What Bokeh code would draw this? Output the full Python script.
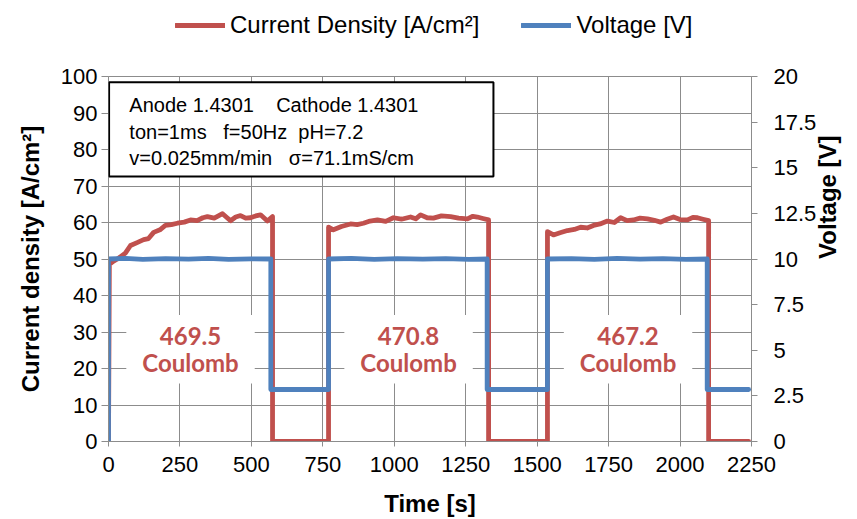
import math
from bokeh.plotting import figure
from bokeh.layouts import column
from bokeh.models import (Range1d, LinearAxis, Legend, LegendItem, BoxAnnotation, Label,
                          FixedTicker, NumeralTickFormatter, ColumnDataSource)
from bokeh.core.properties import value
from bokeh.embed import file_html
from bokeh.resources import INLINE

# ---------------- data ----------------
time_current = [0, 3, 15, 35, 59, 77, 100, 123, 140, 158, 180, 199, 220, 241, 265, 287, 310,
                330, 346, 370, 399, 415, 427, 445, 462, 480, 497, 515, 532, 556, 574, 574,
                770, 770, 787, 815, 847, 870, 892, 915, 941, 970, 997, 1025, 1057, 1075, 1092,
                1115, 1137, 1165, 1197, 1225, 1256, 1275, 1291, 1310, 1330, 1330,
                1536, 1536, 1557, 1580, 1606, 1630, 1652, 1675, 1697, 1720, 1746, 1770, 1792,
                1815, 1837, 1860, 1886, 1910, 1932, 1955, 1977, 2000, 2026, 2045, 2061, 2080,
                2100, 2100, 2240]
current_density = [0, 48.5, 49.3, 50.2, 51.6, 53.7, 54.5, 55.3, 55.6, 57.3, 58.0, 59.2, 59.4,
                   59.8, 60.1, 60.7, 60.5, 61.3, 61.6, 61.2, 62.4, 61.3, 60.5, 61.5, 61.9, 61.2,
                   61.3, 61.8, 62.1, 60.4, 61.6, 0,
                   0, 58.7, 58.0, 58.9, 59.6, 59.4, 59.8, 60.4, 60.7, 60.3, 61.3, 60.9, 61.5,
                   61.0, 62.1, 61.3, 61.2, 61.8, 61.6, 61.2, 61.0, 61.7, 61.5, 61.1, 60.7, 0,
                   0, 57.5, 56.6, 57.2, 57.8, 58.1, 58.7, 58.5, 59.2, 59.6, 60.4, 60.0, 61.3,
                   60.5, 60.7, 61.2, 61.0, 60.6, 60.1, 60.9, 61.5, 60.8, 60.7, 61.4, 61.3, 60.9,
                   60.5, 0, 0]

time_voltage = [0, 0, 60, 120, 200, 280, 350, 420, 500, 568, 568,
                770, 770, 850, 930, 1010, 1100, 1180, 1260, 1325, 1325,
                1536, 1536, 1620, 1700, 1780, 1860, 1940, 2020, 2095, 2095, 2240]
voltage = [0, 10.0, 10.03, 9.98, 10.02, 9.99, 10.03, 9.98, 10.01, 10.0, 2.85,
           2.85, 10.0, 10.03, 9.98, 10.02, 9.99, 10.02, 9.98, 10.0, 2.85,
           2.85, 10.0, 10.02, 9.98, 10.03, 9.99, 10.02, 9.98, 10.0, 2.85, 2.85]

pulse_start = [0, 770, 1536]
pulse_end = [574, 1330, 2100]
charge_values = ["469.5", "470.8", "467.2"]
charge_unit = "Coulomb"

x_ticks = [0, 250, 500, 750, 1000, 1250, 1500, 1750, 2000, 2250]
y_ticks = [0, 10, 20, 30, 40, 50, 60, 70, 80, 90, 100]
v_ticks = [0, 2.5, 5, 7.5, 10, 12.5, 15, 17.5, 20]

legend_labels = ["Current Density [A/cm²]", "Voltage [V]"]
NB = "\u00a0"
info_lines = ["Anode 1.4301" + NB * 4 + "Cathode 1.4301",
              "ton=1ms" + NB * 3 + "f=50Hz" + NB * 2 + "pH=7.2",
              "v=0.025mm/min" + NB * 3 + "σ=71.1mS/cm"]

# ---------------- style ----------------
RED = "#C0504D"
BLUE = "#4F81BD"
GRID = "#8C8C8C"
FONT = "Liberation Sans"
TOP_H = 50

# ---------------- main plot ----------------
p = figure(width=857, height=519 - TOP_H, output_backend="svg", toolbar_location=None,
           x_range=Range1d(0, 2250), y_range=Range1d(0, 100),
           min_border_left=108, min_border_right=106, min_border_top=76 - TOP_H,
           min_border_bottom=78)
p.extra_y_ranges = {"volt": Range1d(0, 20)}
p.outline_line_color = GRID
p.background_fill_color = "white"
p.border_fill_color = "white"

p.xgrid.ticker = FixedTicker(ticks=x_ticks)
p.ygrid.ticker = FixedTicker(ticks=y_ticks)
for g in (p.xgrid, p.ygrid):
    g.grid_line_color = GRID
    g.grid_line_width = 1

def style_axis(ax, title, tick_out, standoff, title_standoff):
    ax.axis_label = title
    ax.axis_label_text_font = FONT
    ax.axis_label_text_font_style = "bold"
    ax.axis_label_text_font_size = "24px"
    ax.axis_label_text_color = "black"
    ax.axis_label_standoff = title_standoff
    ax.major_label_text_font = FONT
    ax.major_label_text_font_size = "22px"
    ax.major_label_text_color = "black"
    ax.major_label_standoff = standoff
    ax.axis_line_color = GRID
    ax.major_tick_line_color = GRID
    ax.major_tick_out = tick_out
    ax.major_tick_in = 0
    ax.minor_tick_line_color = None

p.xaxis.ticker = FixedTicker(ticks=x_ticks)
p.yaxis.ticker = FixedTicker(ticks=y_ticks)
style_axis(p.xaxis[0], "Time [s]", 5, 10, 15)
style_axis(p.yaxis[0], "Current density [A/cm²]", 7, 4, 14)

# right axis: ticks and labels
vax = LinearAxis(y_range_name="volt", ticker=FixedTicker(ticks=v_ticks),
                 formatter=NumeralTickFormatter(format="0.[0]"))
style_axis(vax, None, 6, 16, 0)
p.add_layout(vax, "right")

# right axis title (bottom-to-top), carried by a bare axis so that it can be centred
vtitle = LinearAxis(y_range_name="volt", ticker=FixedTicker(ticks=[]), bounds=(0, 13.26))
style_axis(vtitle, "Voltage [V]", 0, 0, 8)
vtitle.axis_line_color = None
vtitle.major_tick_line_color = None
try:
    vtitle.axis_label_orientation = math.pi / 2
except Exception:
    pass
p.add_layout(vtitle, "right")

# info box
box = BoxAnnotation(left=2, right=1347, top=98.4, bottom=72.6,
                    fill_color="white", fill_alpha=1.0,
                    line_color="black", line_width=2, line_alpha=1.0)
p.add_layout(box)
for i, line in enumerate(info_lines):
    p.add_layout(Label(x=73, y=92.1 - i * 7.2, text=line, text_font=FONT,
                       text_font_size="20px", text_baseline="middle", text_color="black"))

# data lines
cur_src = ColumnDataSource(dict(t=time_current, c=current_density))
volt_src = ColumnDataSource(dict(t=time_voltage, v=voltage))
p.line("t", "c", source=cur_src, line_color=RED, line_width=4.8,
       line_join="round", line_cap="round")
p.line("t", "v", source=volt_src, y_range_name="volt", line_color=BLUE,
       line_width=4.8, line_join="round", line_cap="round")

# charge labels
mid = [(a + b) / 2 for a, b in zip(pulse_start, pulse_end)]
lab_src = ColumnDataSource(dict(x=mid, y=[25.3] * 3,
                                txt=[f"{v}\n{charge_unit}" for v in charge_values]))
p.text("x", "y", text="txt", source=lab_src, text_font=value("Lato"),
       text_font_style="bold", text_font_size="24px", text_color=RED,
       text_align="center", text_baseline="middle", text_line_height=0.95,
       background_fill_color="white",
       padding=dict(left=16, right=16, top=6, bottom=6))

# ---------------- legend strip ----------------
top = figure(width=857, height=TOP_H, output_backend="svg", toolbar_location=None,
             x_range=Range1d(0, 1), y_range=Range1d(0, 1), x_axis_type=None,
             y_axis_type=None, min_border=0)
top.outline_line_color = None
top.xgrid.visible = False
top.ygrid.visible = False
nan = float("nan")
k_cur = top.line([nan], [nan], line_color=RED, line_width=4.8, line_cap="round")
k_volt = top.line([nan], [nan], line_color=BLUE, line_width=4.8, line_cap="round")
legend = Legend(items=[LegendItem(label=legend_labels[0], renderers=[k_cur], index=0),
                       LegendItem(label=legend_labels[1], renderers=[k_volt], index=0)],
                orientation="horizontal", location=(67, TOP_H - 39),
                label_text_font=FONT, label_text_font_size="24px", label_text_color="black",
                glyph_width=50, glyph_height=22, label_height=22, label_standoff=5,
                spacing=42, padding=0, margin=0,
                border_line_color=None, background_fill_alpha=0)
top.add_layout(legend)

open("out.html", "w").write(file_html(column(top, p, spacing=0), INLINE))
